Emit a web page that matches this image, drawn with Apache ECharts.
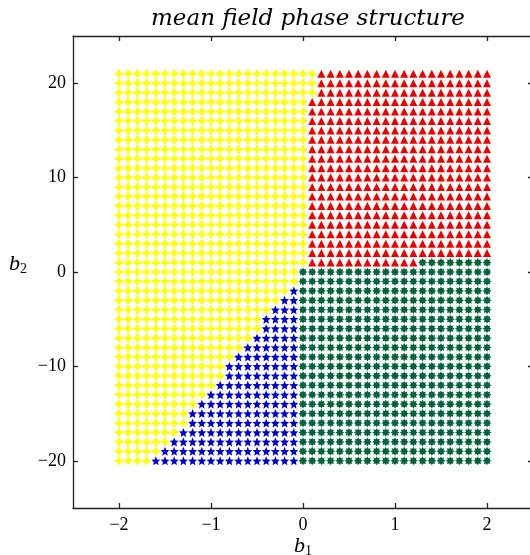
<!DOCTYPE html>
<html>
<head>
<meta charset="utf-8">
<script src="https://cdn.jsdelivr.net/npm/echarts@6/dist/echarts.min.js"></script>
<style>
html,body{margin:0;padding:0;background:#fff;}
#chart{width:530px;height:555px;}
</style>
</head>
<body>
<div id="chart"></div>
<script>
// ---- data ----
var xValues = [-2.0,-1.9,-1.8,-1.7,-1.6,-1.5,-1.4,-1.3,-1.2,-1.1,-1.0,-0.9,-0.8,-0.7,-0.6,-0.5,-0.4,-0.3,-0.2,-0.1,
  0.0,0.1,0.2,0.3,0.4,0.5,0.6,0.7,0.8,0.9,1.0,1.1,1.2,1.3,1.4,1.5,1.6,1.7,1.8,1.9,2.0];
var yValues = [-20,-19,-18,-17,-16,-15,-14,-13,-12,-11,-10,-9,-8,-7,-6,-5,-4,-3,-2,-1,0,
  1,2,3,4,5,6,7,8,9,10,11,12,13,14,15,16,17,18,19,20,21];
// last b1 value in the yellow phase, for each row of yValues
var yellowMax = [-1.7,-1.6,-1.5,-1.4,-1.3,-1.3,-1.2,-1.1,-1.0,-0.9,-0.9,-0.8,-0.7,-0.6,-0.5,-0.5,-0.4,-0.3,-0.2,-0.1,-0.1,
  0.0,0.0,0.0,0.0,0.0,0.0,0.0,0.0,0.0,0.0,0.0,0.0,0.0,0.0,0.0,0.0,0.0,0.0,0.1,0.1,0.1];
// first b1 value in the green phase, for each row (null = none)
var greenStart = [0.0,0.0,0.0,0.0,0.0,0.0,0.0,0.0,0.0,0.0,0.0,0.0,0.0,0.0,0.0,0.0,0.0,0.0,0.0,0.0,0.0,
  1.3,null,null,null,null,null,null,null,null,null,null,null,null,null,null,null,null,null,null,null,null];
var xTicks = [-2,-1,0,1,2];
var yTicks = [-20,-10,0,10,20];

// ---- build phase point sets ----
var yellowPts = [], bluePts = [], redPts = [], greenPts = [];
var eps = 1e-6;
for (var r = 0; r < yValues.length; r++) {
  var y = yValues[r];
  for (var c = 0; c < xValues.length; c++) {
    var x = xValues[c];
    if (x <= yellowMax[r] + eps) yellowPts.push([x, y]);
    else if (greenStart[r] !== null && x >= greenStart[r] - eps) greenPts.push([x, y]);
    else if (y <= 0) bluePts.push([x, y]);
    else redPts.push([x, y]);
  }
}

// ---- marker shapes ----
function starPath(n, ro, ri) {
  var s = 'path://';
  for (var i = 0; i < 2 * n; i++) {
    var a = -Math.PI / 2 + i * Math.PI / n;
    var rr = (i % 2 === 0) ? ro : ri;
    var px = (50 + rr * 50 * Math.cos(a)).toFixed(2);
    var py = (50 + rr * 50 * Math.sin(a)).toFixed(2);
    s += (i === 0 ? 'M' : 'L') + px + ',' + py;
  }
  return s + 'Z';
}
var plusPath = 'path://M33,0L67,0L67,33L100,33L100,67L67,67L67,100L33,100L33,67L0,67L0,33L33,33Z';
var star5 = starPath(5, 1, 0.45);
var star8 = starPath(8, 1, 0.62);

function fmt(v) { return (v < 0 ? '\u2212' : '') + Math.abs(v); }

var axisLineStyle = { color: '#222', width: 1.3 };
var tickStyle = { color: '#222', width: 1.3 };
var labelFont = { fontFamily: 'Liberation Serif', fontSize: 18, color: '#000' };
var nameRich = {
  b: { fontFamily: 'Liberation Serif', fontStyle: 'italic', fontSize: 22, color: '#000' },
  s: { fontFamily: 'Liberation Serif', fontSize: 14, color: '#000', padding: [10, 0, 0, 0] }
};

var chart = echarts.init(document.getElementById('chart'));
chart.setOption({
  animation: false,
  backgroundColor: '#fff',
  title: {
    text: 'mean field phase structure',
    left: 303, top: 3, textAlign: 'center',
    textStyle: { fontFamily: 'DejaVu Serif', fontStyle: 'italic', fontWeight: 'normal', fontSize: 23, color: '#000' }
  },
  grid: { left: 73, top: 36, width: 460, height: 472, containLabel: false, outerBoundsMode: 'none' },
  xAxis: [{
    type: 'value', min: -2.5, max: 2.5, position: 'bottom',
    splitLine: { show: false },
    axisLine: { show: true, onZero: false, lineStyle: axisLineStyle },
    axisTick: { show: true, inside: true, length: 5, customValues: xTicks, lineStyle: tickStyle },
    axisLabel: Object.assign({ customValues: xTicks, margin: 8, formatter: fmt }, labelFont),
    name: '{b|b}{s|1}', nameLocation: 'middle', nameGap: 26, nameMoveOverlap: false,
    nameTextStyle: { rich: nameRich }
  }, {
    type: 'value', min: -2.5, max: 2.5, position: 'top',
    splitLine: { show: false },
    axisLine: { show: true, onZero: false, lineStyle: axisLineStyle },
    axisTick: { show: true, inside: true, length: 5, customValues: xTicks, lineStyle: tickStyle },
    axisLabel: { show: false }
  }],
  yAxis: [{
    type: 'value', min: -25, max: 25, position: 'left',
    splitLine: { show: false },
    axisLine: { show: true, onZero: false, lineStyle: axisLineStyle },
    axisTick: { show: true, inside: true, length: 5, customValues: yTicks, lineStyle: tickStyle },
    axisLabel: Object.assign({ customValues: yTicks, margin: 7, formatter: fmt }, labelFont),
    name: '{b|b}{s|2}', nameLocation: 'middle', nameGap: 46, nameRotate: 0, nameMoveOverlap: false,
    nameTextStyle: { rich: nameRich, padding: [0, 0, 16, 0] }
  }, {
    type: 'value', min: -25, max: 25, position: 'right',
    splitLine: { show: false },
    axisLine: { show: true, onZero: false, lineStyle: axisLineStyle },
    axisTick: { show: true, inside: true, length: 5, customValues: yTicks, lineStyle: tickStyle },
    axisLabel: { show: false }
  }],
  series: [
    { name: 'yellow', type: 'scatter', data: yellowPts, symbol: plusPath, symbolSize: 8,
      itemStyle: { color: '#ffff00', opacity: 1 } },
    { name: 'red', type: 'scatter', data: redPts, symbol: 'triangle', symbolSize: [8, 8],
      itemStyle: { color: '#ee0000', opacity: 1 } },
    { name: 'green', type: 'scatter', data: greenPts, symbol: star8, symbolSize: 9,
      itemStyle: { color: '#00643a', opacity: 1 } },
    { name: 'blue', type: 'scatter', data: bluePts, symbol: star5, symbolSize: 9,
      itemStyle: { color: '#0000cc', opacity: 1 } }
  ]
});
</script>
</body>
</html>
